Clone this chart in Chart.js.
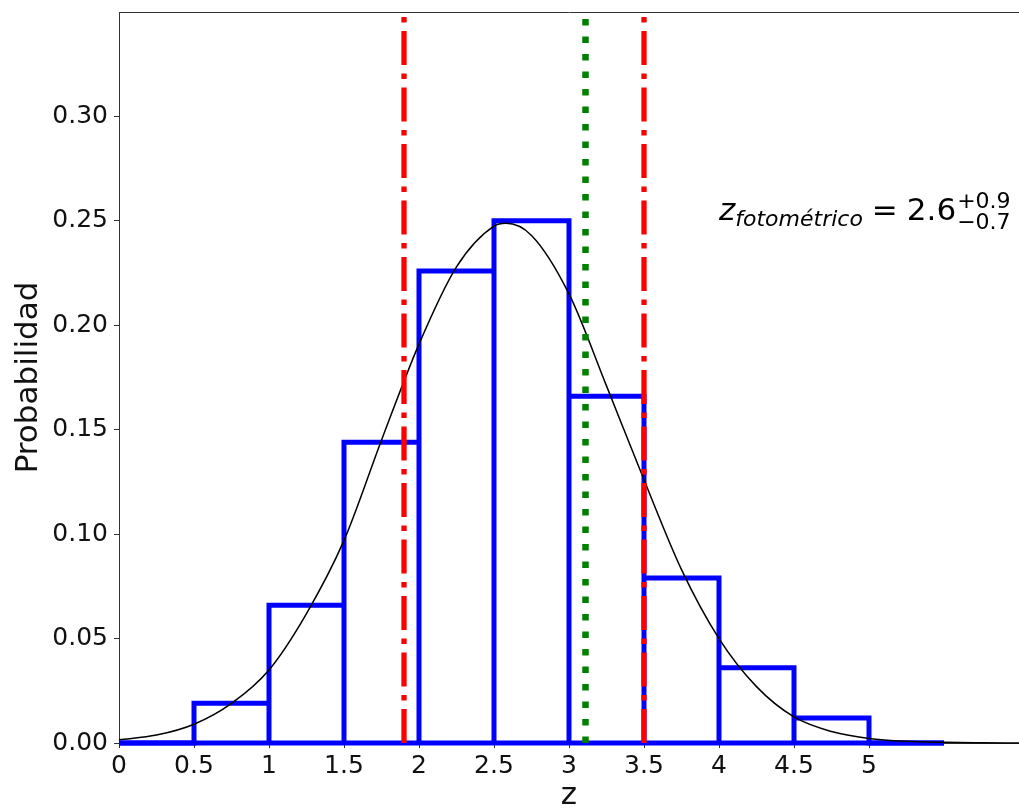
<!DOCTYPE html>
<html>
<head>
<meta charset="utf-8">
<script src="https://cdn.jsdelivr.net/npm/chart.js@4.4.1/dist/chart.umd.min.js"></script>
<style>
html,body{margin:0;padding:0;background:#fff;overflow:hidden}
#wrap{width:1019px;height:812px;position:relative}
</style>
</head>
<body>
<div id="wrap"><canvas id="c" width="1019" height="812"></canvas></div>
<script>
// ---- data ----
const binEdges = [0, 0.5, 1, 1.5, 2, 2.5, 3, 3.5, 4, 4.5, 5, 5.5];
const binProb  = [0, 0.019, 0.066, 0.144, 0.226, 0.250, 0.166, 0.079, 0.036, 0.012, 0];

const curveZ = [0, 0.25, 0.5, 0.75, 1.0, 1.25, 1.5, 1.75, 2.0, 2.25, 2.5, 2.58, 2.75, 3.0, 3.25, 3.5, 3.75, 4.0, 4.25, 4.5, 4.75, 5.0, 5.25, 5.5, 5.75, 6.0];
const curveP = [0.0015, 0.0038, 0.0090, 0.019, 0.035, 0.062, 0.097, 0.145, 0.191, 0.228, 0.2475, 0.2488, 0.243, 0.215, 0.171, 0.126, 0.083, 0.050, 0.027, 0.0125, 0.0055, 0.0022, 0.0008, 0.0003, 0.0001, 0.0];

const zLow = 1.9;     // red dash-dot
const zMid = 3.11;    // green dotted
const zHigh = 3.5;    // red dash-dot

const xTickValues = [0, 0.5, 1, 1.5, 2, 2.5, 3, 3.5, 4, 4.5, 5];
const xTickLabels = ['0', '0.5', '1', '1.5', '2', '2.5', '3', '3.5', '4', '4.5', '5'];
const yTickValues = [0, 0.05, 0.10, 0.15, 0.20, 0.25, 0.30];
const yTickLabels = ['0.00', '0.05', '0.10', '0.15', '0.20', '0.25', '0.30'];

const annotZ = 4.0, annotP = 0.25;

// ---- build structures ----
const histPts = [];
for (let i = 0; i < binProb.length; i++) {
  const a = binEdges[i], b = binEdges[i + 1], h = binProb[i];
  histPts.push({x: a, y: 0}, {x: a, y: h}, {x: b, y: h}, {x: b, y: 0});
}
const basePts = [{x: binEdges[0], y: 0}, {x: binEdges[binEdges.length - 1], y: 0}];
const curvePts = curveZ.map((z, i) => ({x: z, y: curveP[i]}));
const vline = z => [{x: z, y: 0}, {x: z, y: 0.35}];

const FONT = '"DejaVu Sans", sans-serif';
const AX = '#333';

const annot = {
  id: 'annot',
  afterDatasetsDraw(chart) {
    const {ctx, scales} = chart;
    let px = scales.x.getPixelForValue(annotZ);
    const py = scales.y.getPixelForValue(annotP) - 1;
    ctx.save();
    ctx.fillStyle = '#000';
    ctx.textBaseline = 'alphabetic';
    ctx.textAlign = 'left';
    ctx.font = 'italic 31px ' + FONT;
    ctx.fillText('z', px, py);
    px += ctx.measureText('z').width;
    ctx.font = 'italic 22px ' + FONT;
    ctx.fillText('fotométrico', px, py + 6);
    px += ctx.measureText('fotométrico').width + 9;
    ctx.font = '31px ' + FONT;
    ctx.fillText('=', px, py);
    px += ctx.measureText('=').width + 9;
    ctx.fillText('2.6', px, py);
    px += ctx.measureText('2.6').width + 1;
    ctx.font = '22px ' + FONT;
    ctx.fillText('+0.9', px, py - 12);
    ctx.fillText('\u22120.7', px, py + 9);
    ctx.restore();
  }
};

new Chart(document.getElementById('c'), {
  type: 'line',
  data: {
    datasets: [
      {data: vline(zMid), borderColor: '#008000', borderWidth: 6.5, borderDash: [6.5, 11], borderCapStyle: 'butt', pointRadius: 0, order: 1, clip: 8},
      {data: vline(zLow), borderColor: '#ff0000', borderWidth: 5.3, borderDash: [34, 8.6, 5.3, 8.6], borderCapStyle: 'butt', pointRadius: 0, order: 2, clip: 8},
      {data: vline(zHigh), borderColor: '#ff0000', borderWidth: 5.3, borderDash: [34, 8.6, 5.3, 8.6], borderCapStyle: 'butt', pointRadius: 0, order: 3, clip: 8},
      {data: curvePts, borderColor: '#000000', borderWidth: 1.5, cubicInterpolationMode: 'monotone', pointRadius: 0, order: 4, clip: 8},
      {data: histPts, borderColor: '#0000ff', borderWidth: 5, borderJoinStyle: 'miter', borderCapStyle: 'butt', pointRadius: 0, tension: 0, order: 5, clip: 8},
      {data: basePts, borderColor: '#0000ff', borderWidth: 5, borderCapStyle: 'butt', pointRadius: 0, order: 6, clip: 8}
    ]
  },
  options: {
    responsive: false,
    animation: false,
    devicePixelRatio: 1,
    layout: {padding: 0},
    plugins: {legend: {display: false}, tooltip: {enabled: false}},
    elements: {line: {fill: false}},
    scales: {
      x: {
        type: 'linear', position: 'bottom', min: 0, max: 6,
        afterBuildTicks: a => { a.ticks = xTickValues.map(v => ({value: v})); },
        afterFit: a => { a.height = 69; a.paddingLeft = 0; a.paddingRight = 0; },
        ticks: {callback: (v, i) => xTickLabels[i], font: {family: FONT, size: 25}, color: '#111', padding: 3, maxRotation: 0, autoSkip: false},
        grid: {display: true, drawOnChartArea: false, drawTicks: true, tickLength: 5, color: AX},
        border: {display: true, color: AX, width: 1},
        title: {display: true, text: 'z', font: {family: FONT, size: 31}, color: '#111', padding: {top: 0, bottom: -3}}
      },
      xTop: {
        type: 'linear', position: 'top', min: 0, max: 6,
        afterFit: a => { a.height = 12; a.paddingLeft = 0; a.paddingRight = 0; },
        ticks: {display: false},
        grid: {display: false, drawTicks: false},
        border: {display: true, color: AX, width: 1}
      },
      y: {
        type: 'linear', position: 'left', min: 0, max: 0.35,
        afterBuildTicks: a => { a.ticks = yTickValues.map(v => ({value: v})); },
        afterFit: a => { a.width = 119; a.paddingTop = 0; a.paddingBottom = 0; },
        ticks: {callback: (v, i) => yTickLabels[i], font: {family: FONT, size: 25}, color: '#111', padding: 6},
        grid: {display: true, drawOnChartArea: false, drawTicks: true, tickLength: 5, color: AX},
        border: {display: true, color: AX, width: 1},
        title: {display: true, text: 'Probabilidad', font: {family: FONT, size: 31}, color: '#111', padding: {top: 10, bottom: 0}}
      }
    }
  },
  plugins: [annot]
});
</script>
</body>
</html>
